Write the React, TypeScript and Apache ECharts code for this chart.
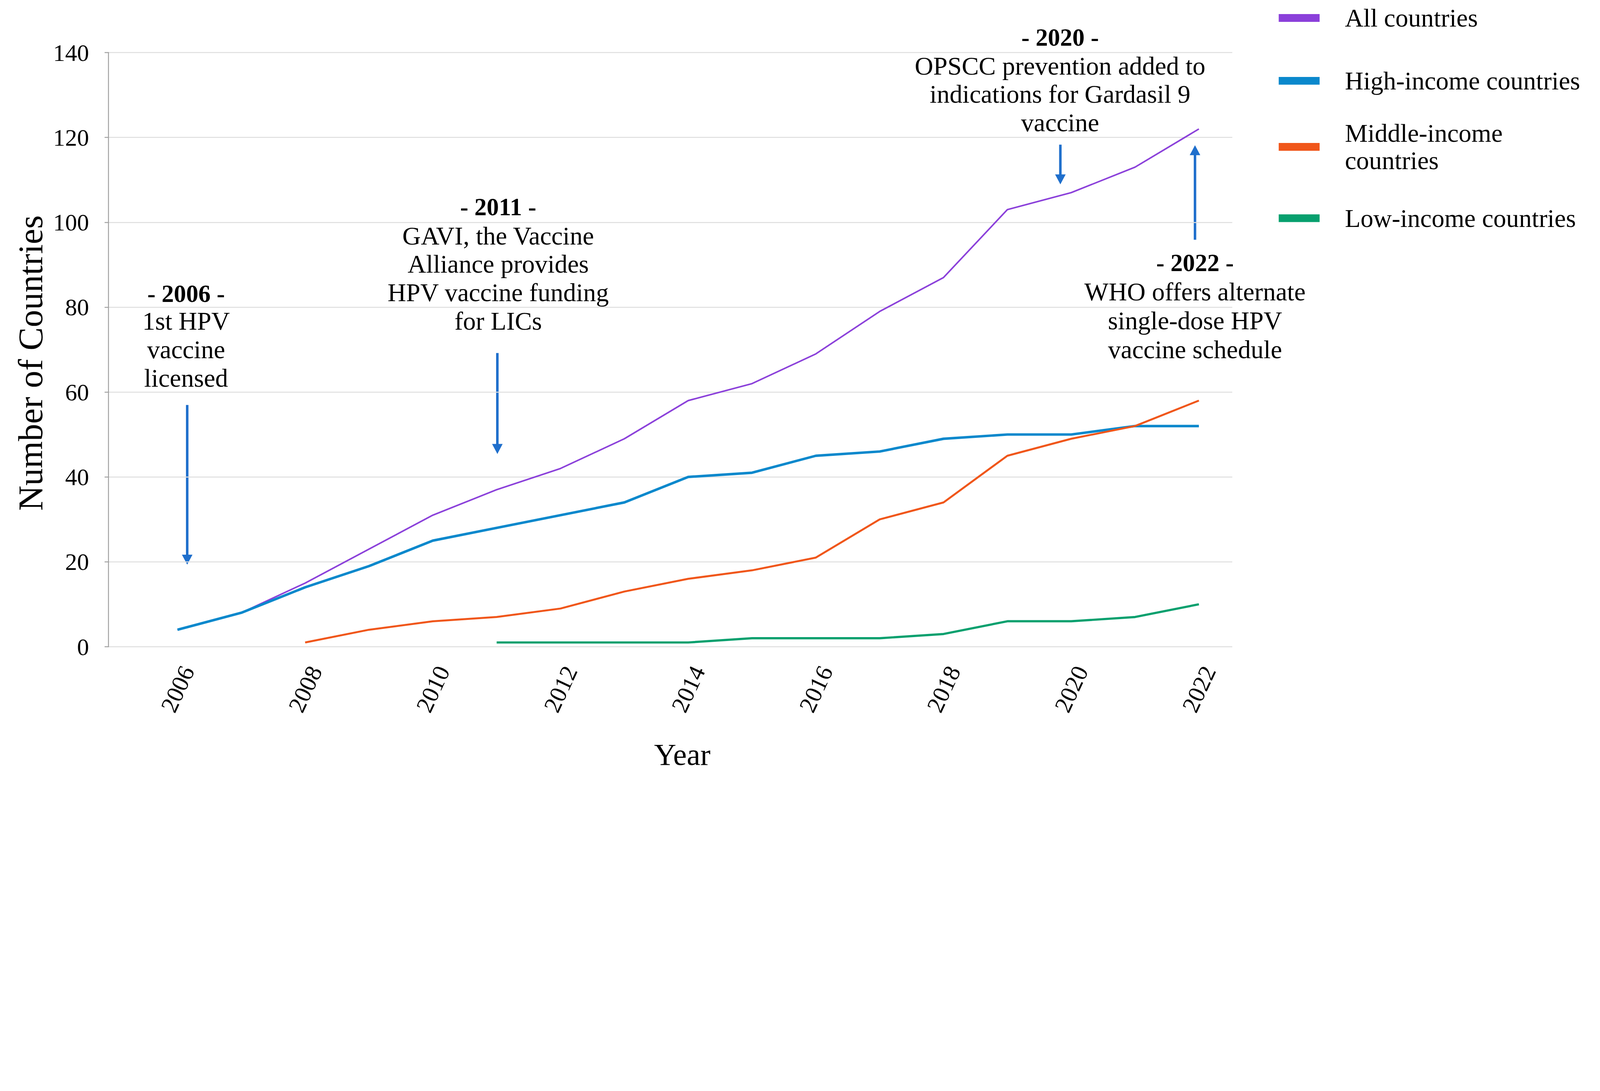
import React, { useEffect, useRef, useState } from "react";
import * as echarts from "echarts";

const years = [2006, 2007, 2008, 2009, 2010, 2011, 2012, 2013, 2014, 2015, 2016, 2017, 2018, 2019, 2020, 2021, 2022];
const allCountries = [4, 8, 15, 23, 31, 37, 42, 49, 58, 62, 69, 79, 87, 103, 107, 113, 122];
const highIncome = [4, 8, 14, 19, 25, 28, 31, 34, 40, 41, 45, 46, 49, 50, 50, 52, 52];
const middleIncome = [null, null, 1, 4, 6, 7, 9, 13, 16, 18, 21, 30, 34, 45, 49, 52, 58];
const lowIncome = [null, null, null, null, null, 1, 1, 1, 1, 2, 2, 2, 3, 6, 6, 7, 10];

const seriesNames = ["All countries", "High-income countries", "Middle-income countries", "Low-income countries"];
const seriesColors = ["#8B40DA", "#0A88CC", "#F0561A", "#07A06E"];
const seriesWidths = [5.5, 9, 7, 8];
const seriesValues = [allCountries, highIncome, middleIncome, lowIncome];

const yTicks = { min: 0, max: 140, interval: 20 };
const xTicks = { min: 2006, max: 2022, interval: 2 };

const DESIGN_W = 5752;
const DESIGN_H = 2793;
const FONT = "'Liberation Serif', 'Times New Roman', serif";
const ARROW = "#1F6FCC";

function pairs(vals: (number | null)[]) {
  const out: [number, number][] = [];
  vals.forEach((v, i) => {
    if (v !== null) out.push([years[i], v]);
  });
  return out;
}

function arrow(x: number, yStart: number, yTip: number) {
  const down = yTip > yStart;
  const headLen = 36;
  const half = 19;
  const base = down ? yTip - headLen : yTip + headLen;
  return [
    { type: "line", shape: { x1: x, y1: yStart, x2: x, y2: base + (down ? 2 : -2) }, style: { stroke: ARROW, lineWidth: 9 } },
    { type: "polygon", shape: { points: [[x - half, base], [x + half, base], [x, yTip]] }, style: { fill: ARROW } },
  ];
}

function note(x: number, yHead: number, head: string, yBody: number, body: string, lh: number) {
  return [
    { type: "text", x, y: yHead, style: { text: head, fontFamily: FONT, fontSize: 88, fontWeight: "bold", fill: "#000", align: "center", verticalAlign: "middle" } },
    { type: "text", x, y: yBody, style: { text: body, fontFamily: FONT, fontSize: 92, lineHeight: lh, fill: "#000", align: "center", verticalAlign: "middle" } },
  ];
}

function getScale() {
  if (typeof window === "undefined") return 1;
  const sw = window.innerWidth / DESIGN_W;
  const sh = window.innerHeight / DESIGN_H;
  const s = Math.min(sw, sh);
  return s > 0 && isFinite(s) ? Math.min(s, 1) : 1;
}

export default function App() {
  const ref = useRef<HTMLDivElement>(null);
  const [scale] = useState(getScale);
  useEffect(() => {
    document.body.style.margin = "0";
    if (!ref.current) return;
    const chart = echarts.init(ref.current, undefined, { renderer: "svg", width: DESIGN_W, height: DESIGN_H });
    const legendTops = [15, 241, 429, 735];
    const option: any = {
      animation: false,
      backgroundColor: "#fff",
      grid: [
        { left: 390, right: 1322, top: 189, bottom: 468 },
        { left: 638, right: 1442, top: 189, bottom: 468 },
      ],
      xAxis: [
        { type: "value", gridIndex: 0, min: 0, max: 1, show: false },
        {
          type: "value",
          gridIndex: 1,
          min: xTicks.min,
          max: xTicks.max,
          interval: xTicks.interval,
          axisLine: { show: false },
          axisTick: { show: false },
          splitLine: { show: false },
          axisLabel: {
            rotate: 65,
            align: "center",
            verticalAlign: "middle",
            margin: 152,
            fontSize: 86,
            fontFamily: FONT,
            color: "#000",
            showMinLabel: true,
            showMaxLabel: true,
            formatter: (v: number) => String(v),
          },
        },
      ],
      yAxis: [
        {
          type: "value",
          gridIndex: 0,
          min: yTicks.min,
          max: yTicks.max,
          interval: yTicks.interval,
          axisLine: { show: true, lineStyle: { color: "#A3A3A3", width: 3.5 } },
          axisTick: { show: true, length: 14, lineStyle: { color: "#A3A3A3", width: 3.5 } },
          splitLine: { show: true, lineStyle: { color: "#DEDEDE", width: 3.5 } },
          axisLabel: { margin: 70, fontSize: 86, fontFamily: FONT, color: "#000" },
        },
        { type: "value", gridIndex: 1, min: yTicks.min, max: yTicks.max, show: false },
      ],
      legend: seriesNames.map((n, i) => ({
        data: [n],
        left: 4597,
        top: legendTops[i],
        orient: "vertical",
        icon: "rect",
        itemWidth: 147,
        itemHeight: 28,
        padding: 0,
        selectedMode: false,
        formatter: (name: string) => (name === "Middle-income countries" ? "Middle-income\ncountries" : name),
        textStyle: { fontSize: 92, fontFamily: FONT, color: "#000", lineHeight: 99, padding: [0, 0, 0, 86] },
      })),
      series: seriesNames.map((n, i) => ({
        name: n,
        type: "line",
        xAxisIndex: 1,
        yAxisIndex: 1,
        data: pairs(seriesValues[i]),
        showSymbol: false,
        symbol: "none",
        itemStyle: { color: seriesColors[i] },
        lineStyle: { color: seriesColors[i], width: seriesWidths[i] },
        emphasis: { disabled: true },
      })),
      graphic: [
        { type: "text", x: 110, y: 1305, rotation: Math.PI / 2, style: { text: "Number of Countries", fontFamily: FONT, fontSize: 125, fill: "#000", align: "center", verticalAlign: "middle" } },
        { type: "text", x: 2453, y: 2712, style: { text: "Year", fontFamily: FONT, fontSize: 110, fill: "#000", align: "center", verticalAlign: "middle" } },
        ...note(669, 1056, "- 2006 -", 1257, "1st HPV\nvaccine\nlicensed", 102),
        ...note(1791, 744, "- 2011 -", 1001, "GAVI, the Vaccine\nAlliance provides\nHPV vaccine funding\nfor LICs", 102),
        ...note(3811, 135, "- 2020 -", 339, "OPSCC prevention added to\nindications for Gardasil 9\nvaccine", 102),
        ...note(4296, 945, "- 2022 -", 1153, "WHO offers alternate\nsingle-dose HPV\nvaccine schedule", 104),
        ...arrow(673, 1456, 2030),
        ...arrow(1788, 1269, 1632),
        ...arrow(3812, 520, 663),
        ...arrow(4296, 862, 522),
      ],
    };
    chart.setOption(option);
    return () => chart.dispose();
  }, []);
  return (
    <div style={{ width: DESIGN_W * scale, height: DESIGN_H * scale, overflow: "hidden", position: "relative" }}>
      <div
        ref={ref}
        style={{ width: DESIGN_W, height: DESIGN_H, transform: `scale(${scale})`, transformOrigin: "0 0", position: "absolute", left: 0, top: 0 }}
      />
    </div>
  );
}
